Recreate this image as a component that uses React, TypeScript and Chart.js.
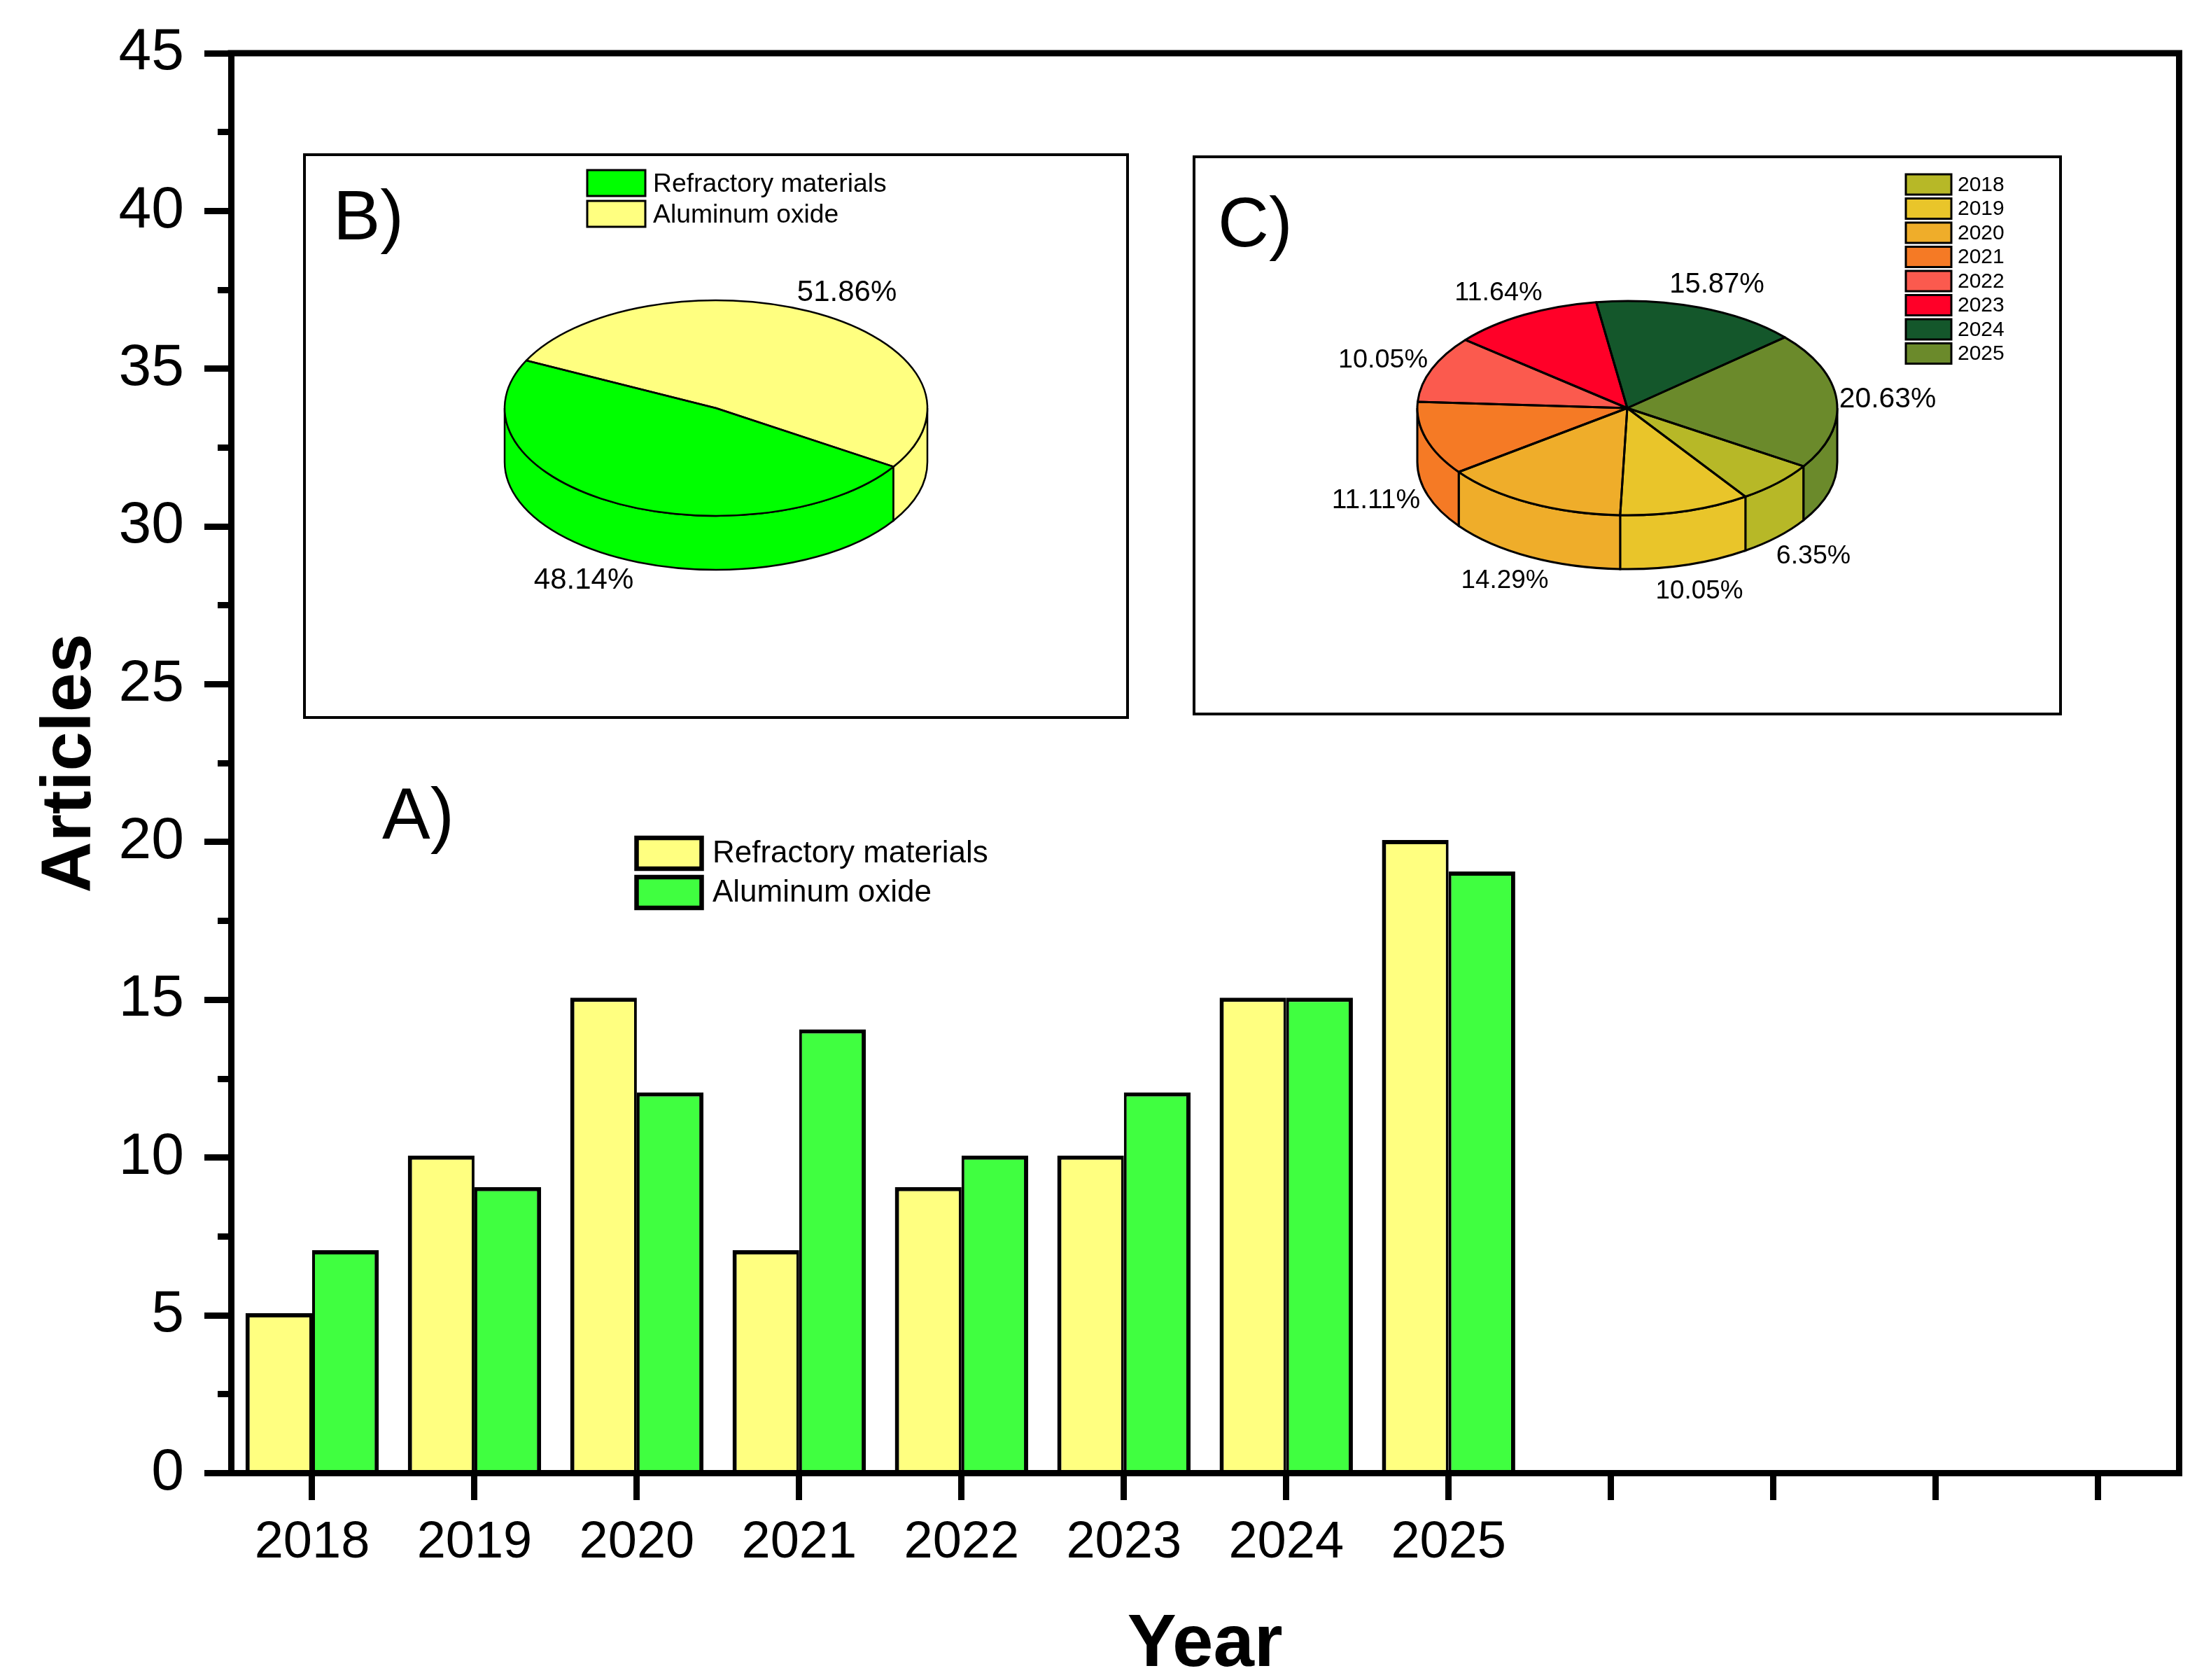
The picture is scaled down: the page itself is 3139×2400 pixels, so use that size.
import React, { useEffect, useRef } from "react";
import { Chart, registerables } from "chart.js";

Chart.register(...registerables);

const FONT = '"Liberation Sans", Arial, sans-serif';

// ---- data ----
const years = ["2018", "2019", "2020", "2021", "2022", "2023", "2024", "2025", "", "", "", ""];
const refractoryArticles = [5, 10, 15, 7, 9, 10, 15, 20];
const aluminumArticles = [7, 9, 12, 14, 10, 12, 15, 19];
const materialNames = ["Refractory materials", "Aluminum oxide"];
const materialShares = [48.14, 51.86];
const yearNames = ["2018", "2019", "2020", "2021", "2022", "2023", "2024", "2025"];
const yearShares = [6.35, 10.05, 14.29, 11.11, 10.05, 11.64, 15.87, 20.63];

// ---- colours ----
const barColors = ["#FFFF80", "#40FF40"];
const materialColors = ["#00FF00", "#FFFF80"];
const yearColors = ["#B7B827", "#E9C52A", "#EFAD2A", "#F57A25", "#FB5A4E", "#FF0028", "#14572B", "#6B8A2B"];

// ---- layout of text and boxes ----
const W = 3139;
const H = 2400;
const squash = 0.51;
const depth = 77;
const insetB = { left: 433, top: 219, width: 1180, height: 808, radius: 302, padBottom: 80, rotation: 122.9, line: 2.5 };
const insetC = { left: 1704, top: 222, width: 1242, height: 800, radius: 300, padBottom: 78, rotation: 122.9, line: 3 };
const labelPosB = [[834, 829], [1210, 418]];
const labelPosC = [[2591, 795], [2428, 845], [2150, 830], [1966, 715], [1976, 515], [2141, 419], [2453, 407], [2697, 571]];
const labelFontB = [42, 42];
const labelFontC = [37.5, 36.8, 36.8, 39, 37.8, 37.8, 40, 40.8];
const legendB = { x: 839, y: 243, w: 83, h: 37, step: 44, textX: 933, font: 37.3, line: 3, dy: 2 };
const legendC = { x: 2723, y: 249, w: 65, h: 29, step: 34.5, textX: 2797, font: 30, line: 3, dy: 1 };
const legendA = { x: 909.5, y: 1197, w: 93, h: 44, step: 56, textX: 1018, font: 44, line: 6.5, dy: 1 };

function drawLegend(ctx: any, cfg: any, names: string[], colors: string[]) {
  ctx.save();
  ctx.textAlign = "left";
  ctx.textBaseline = "middle";
  ctx.font = `${cfg.font}px ${FONT}`;
  names.forEach((name, i) => {
    const y = cfg.y + i * cfg.step;
    ctx.fillStyle = colors[i];
    ctx.fillRect(cfg.x, y, cfg.w, cfg.h);
    ctx.strokeStyle = "#000";
    ctx.lineWidth = cfg.line;
    ctx.strokeRect(cfg.x, y, cfg.w, cfg.h);
    ctx.fillStyle = "#000";
    ctx.fillText(name, cfg.textX, y + cfg.h / 2 + cfg.dy);
  });
  ctx.restore();
}

function panelLetter(ctx: any, text: string, x: number, y: number, size: number) {
  ctx.save();
  ctx.fillStyle = "#000";
  ctx.textAlign = "left";
  ctx.textBaseline = "alphabetic";
  ctx.font = `${size}px ${FONT}`;
  ctx.fillText(text, x, y);
  ctx.restore();
}

const barDecor = {
  id: "barDecor",
  beforeDatasetsDraw(chart: any) {
    chart.ctx.save();
    chart.ctx.translate(0, -3);
  },
  afterDatasetsDraw(chart: any) {
    chart.ctx.restore();
  },
  afterDraw(chart: any) {
    const { ctx, chartArea: a } = chart;
    ctx.save();
    ctx.strokeStyle = "#000";
    ctx.lineWidth = 9;
    ctx.lineCap = "square";
    ctx.beginPath();
    ctx.moveTo(a.left, a.top);
    ctx.lineTo(a.right, a.top);
    ctx.lineTo(a.right, a.bottom);
    ctx.stroke();
    ctx.restore();
    panelLetter(ctx, "A)", 546, 1198, 103);
    drawLegend(ctx, legendA, chart.data.datasets.map((d: any) => d.label), barColors);
  },
};

function makePieDecor(inset: any, letter: string, letterX: number, letterY: number, legend: any, labelPos: number[][], fonts: number[]) {
  return {
    id: "pieDecor",
    beforeDatasetDraw(chart: any, args: any) {
      const { ctx } = chart;
      const arcs = args.meta.data;
      ctx.save();
      ctx.lineWidth = inset.line;
      ctx.strokeStyle = "#000";
      arcs.forEach((el: any) => {
        const cx = el.x;
        const cy = el.y;
        const rx = el.outerRadius;
        const ry = rx * squash;
        [[0, Math.PI], [2 * Math.PI, 3 * Math.PI]].forEach(([lo, hi]) => {
          const a0 = Math.max(el.startAngle, lo);
          const a1 = Math.min(el.endAngle, hi);
          if (a1 <= a0) return;
          ctx.beginPath();
          ctx.ellipse(cx, cy, rx, ry, 0, a0, a1);
          ctx.lineTo(cx + rx * Math.cos(a1), cy + ry * Math.sin(a1) + depth);
          ctx.ellipse(cx, cy + depth, rx, ry, 0, a1, a0, true);
          ctx.closePath();
          ctx.fillStyle = el.options.backgroundColor;
          ctx.fill();
          ctx.stroke();
        });
      });
      ctx.restore();
      const cx = arcs[0].x;
      const cy = arcs[0].y;
      ctx.save();
      ctx.translate(cx, cy);
      ctx.scale(1, squash);
      ctx.translate(-cx, -cy);
    },
    afterDatasetDraw(chart: any, args: any) {
      const { ctx } = chart;
      ctx.restore();
      // even outline of each wedge on the squashed top face
      ctx.save();
      ctx.lineWidth = inset.line;
      ctx.strokeStyle = "#000";
      ctx.lineJoin = "round";
      args.meta.data.forEach((el: any) => {
        const rx = el.outerRadius;
        ctx.beginPath();
        ctx.moveTo(el.x, el.y);
        ctx.ellipse(el.x, el.y, rx, rx * squash, 0, el.startAngle, el.endAngle);
        ctx.closePath();
        ctx.stroke();
      });
      ctx.restore();
    },
    afterDraw(chart: any) {
      const { ctx, width, height } = chart;
      ctx.save();
      ctx.strokeStyle = "#000";
      ctx.lineWidth = 4;
      ctx.strokeRect(2, 2, width - 4, height - 4);
      ctx.restore();
      ctx.save();
      ctx.translate(-inset.left, -inset.top);
      panelLetter(ctx, letter, letterX, letterY, 101);
      drawLegend(ctx, legend, chart.data.labels, chart.data.datasets[0].backgroundColor);
      ctx.fillStyle = "#000";
      ctx.textAlign = "center";
      ctx.textBaseline = "middle";
      chart.data.datasets[0].data.forEach((v: number, i: number) => {
        ctx.font = `${fonts[i]}px ${FONT}`;
        ctx.fillText(`${v.toFixed(2)}%`, labelPos[i][0], labelPos[i][1]);
      });
      ctx.restore();
    },
  };
}

function makePie(canvas: HTMLCanvasElement, inset: any, labels: string[], values: number[], colors: string[], plugin: any) {
  return new Chart(canvas, {
    type: "pie",
    data: {
      labels,
      datasets: [{
        data: values,
        backgroundColor: colors,
        borderColor: "#000",
        borderWidth: 0,
        radius: inset.radius,
        clip: false,
      } as any],
    },
    options: {
      animation: false,
      responsive: false,
      devicePixelRatio: 1,
      rotation: inset.rotation,
      layout: { padding: { bottom: inset.padBottom } },
      plugins: { legend: { display: false }, tooltip: { enabled: false } },
    } as any,
    plugins: [plugin],
  });
}

export default function App() {
  const barRef = useRef<HTMLCanvasElement>(null);
  const pieBRef = useRef<HTMLCanvasElement>(null);
  const pieCRef = useRef<HTMLCanvasElement>(null);

  useEffect(() => {
    Chart.defaults.font.family = FONT;
    Chart.defaults.color = "#000";
    const bar = new Chart(barRef.current!, {
      type: "bar",
      data: {
        labels: years,
        datasets: [
          { label: materialNames[0], data: refractoryArticles, backgroundColor: barColors[0], borderColor: "#000", borderWidth: { top: 6, left: 6, right: 4, bottom: 0 } },
          { label: materialNames[1], data: aluminumArticles, backgroundColor: barColors[1], borderColor: "#000", borderWidth: { top: 6, left: 4, right: 6, bottom: 0 } },
        ],
      },
      options: {
        animation: false,
        responsive: false,
        devicePixelRatio: 1,
        layout: { padding: { top: 76, right: W - 3113.5 } },
        datasets: { bar: { barPercentage: 1, categoryPercentage: 0.821 } },
        plugins: { legend: { display: false }, tooltip: { enabled: false } },
        scales: {
          x: {
            grid: { offset: false, drawOnChartArea: false, tickLength: 38.5, tickWidth: 9, tickColor: "#000", z: 1 },
            border: { color: "#000", width: 9, z: 1 },
            ticks: { font: { size: 74 }, color: "#000", padding: 17.5, autoSkip: false, maxRotation: 0 },
            title: { display: true, text: "Year", color: "#000", font: { size: 105, weight: "bold", lineHeight: 0.9 }, padding: { top: 0, bottom: 1.5 } },
            afterFit: (s: any) => { s.height = H - 2104.5; },
          },
          y: {
            min: 0,
            max: 45,
            grid: { drawOnChartArea: false, tickLength: 38, tickWidth: 9, tickColor: "#000" },
            border: { color: "#000", width: 9 },
            ticks: { stepSize: 5, font: { size: 84 }, color: "#000", padding: 29 },
            title: { display: true, text: "Articles", color: "#000", font: { size: 101, weight: "bold", lineHeight: 1 }, padding: { top: 50.5, bottom: 0 } },
            afterFit: (s: any) => { s.width = 330; s.paddingTop = 0; s.paddingBottom = 0; },
          },
          yMinor: {
            position: "left",
            weight: -1,
            min: 0,
            max: 45,
            grid: { drawOnChartArea: false, tickLength: 19, tickWidth: 9, tickColor: "#000" },
            border: { display: false },
            ticks: { stepSize: 2.5, display: false },
            afterFit: (s: any) => { s.width = 0; s.paddingTop = 0; s.paddingBottom = 0; },
          },
        },
      } as any,
      plugins: [barDecor],
    });
    const pieB = makePie(pieBRef.current!, insetB, materialNames, materialShares, materialColors,
      makePieDecor(insetB, "B)", 476, 342, legendB, labelPosB, labelFontB));
    const pieC = makePie(pieCRef.current!, insetC, yearNames, yearShares, yearColors,
      makePieDecor(insetC, "C)", 1740, 352, legendC, labelPosC, labelFontC));
    return () => {
      bar.destroy();
      pieB.destroy();
      pieC.destroy();
    };
  }, []);

  const abs = (l: number, t: number): React.CSSProperties => ({ position: "absolute", left: l, top: t, display: "block" });
  return (
    <div style={{ position: "absolute", left: 0, top: 0, width: W, height: H, background: "#fff", overflow: "hidden" }}>
      <canvas ref={barRef} width={W} height={H} style={{ ...abs(0, 0), width: W, height: H }} />
      <canvas ref={pieBRef} width={insetB.width} height={insetB.height} style={{ ...abs(insetB.left, insetB.top), width: insetB.width, height: insetB.height }} />
      <canvas ref={pieCRef} width={insetC.width} height={insetC.height} style={{ ...abs(insetC.left, insetC.top), width: insetC.width, height: insetC.height }} />
    </div>
  );
}
